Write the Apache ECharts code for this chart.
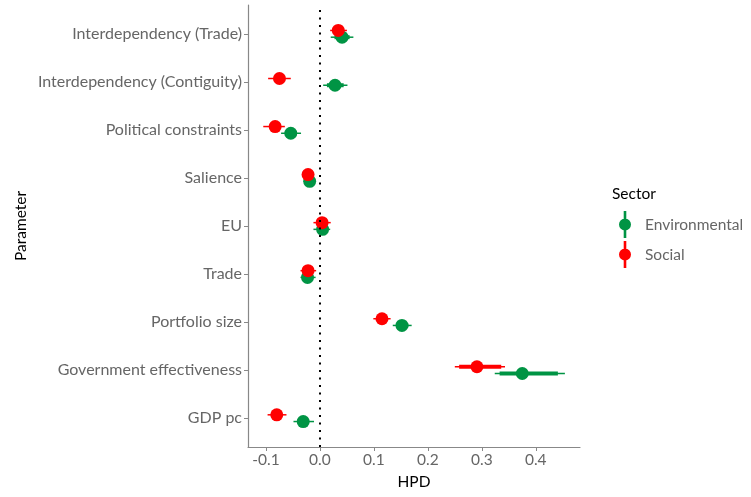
<!DOCTYPE html>
<html>
<head>
<meta charset="utf-8">
<script src="https://cdn.jsdelivr.net/npm/echarts@6/dist/echarts.min.js"></script>
<style>
  html, body { margin: 0; padding: 0; background: #fff; }
  #chart { width: 751px; height: 497px; }
</style>
</head>
<body>
<div id="chart"></div>
<script>
// parameters listed top to bottom
const parameters = [
  'Interdependency (Trade)',
  'Interdependency (Contiguity)',
  'Political constraints',
  'Salience',
  'EU',
  'Trade',
  'Portfolio size',
  'Government effectiveness',
  'GDP pc'
];

const xTicks = [-0.1, 0.0, 0.1, 0.2, 0.3, 0.4];

// Environmental sector: median, thick (inner) and thin (outer) interval
const envMedian = [0.041, 0.028, -0.054, -0.019, 0.005, -0.023, 0.152, 0.375, -0.031];
const envInnerLo = [0.027, 0.013, -0.065, -0.025, -0.004, -0.030, 0.141, 0.333, -0.042];
const envInnerHi = [0.055, 0.044, -0.043, -0.013, 0.013, -0.016, 0.164, 0.441, -0.020];
const envOuterLo = [0.020, 0.006, -0.072, -0.029, -0.012, -0.036, 0.135, 0.324, -0.049];
const envOuterHi = [0.062, 0.051, -0.035, -0.009, 0.019, -0.008, 0.170, 0.454, -0.011];

// Social sector
const socMedian = [0.034, -0.075, -0.083, -0.022, 0.004, -0.022, 0.115, 0.291, -0.080];
const socInnerLo = [0.026, -0.083, -0.092, -0.027, -0.004, -0.029, 0.107, 0.258, -0.088];
const socInnerHi = [0.042, -0.067, -0.074, -0.017, 0.012, -0.015, 0.123, 0.336, -0.071];
const socOuterLo = [0.019, -0.096, -0.105, -0.032, -0.012, -0.036, 0.099, 0.250, -0.097];
const socOuterHi = [0.050, -0.054, -0.065, -0.012, 0.020, -0.007, 0.131, 0.343, -0.062];

const envColor = '#009444';
const socColor = '#ff0000';
const textGray = '#666666';
const fontFamily = 'Lato, "Noto Sans", sans-serif';

const n = parameters.length;

function buildRows(med, inLo, inHi, outLo, outHi, dodge) {
  return parameters.map((p, i) => [n - i + dodge, med[i], outLo[i], outHi[i], inLo[i], inHi[i]]);
}

function renderItem(params, api) {
  const y = api.value(0);
  const med = api.coord([api.value(1), y]);
  const oLo = api.coord([api.value(2), y]);
  const oHi = api.coord([api.value(3), y]);
  const iLo = api.coord([api.value(4), y]);
  const iHi = api.coord([api.value(5), y]);
  const color = api.visual('color');
  return {
    type: 'group',
    children: [
      {
        type: 'line',
        shape: { x1: oLo[0], y1: oLo[1], x2: oHi[0], y2: oHi[1] },
        style: { stroke: color, lineWidth: 1.5 }
      },
      {
        type: 'line',
        shape: { x1: iLo[0], y1: iLo[1], x2: iHi[0], y2: iHi[1] },
        style: { stroke: color, lineWidth: 4 }
      },
      {
        type: 'circle',
        shape: { cx: med[0], cy: med[1], r: 6.5 },
        style: { fill: color }
      }
    ]
  };
}

const legendIcon = 'path://M5.7,0H8.3V27H5.7Z M7,7.5A6,6 0 1 1 7,19.5A6,6 0 1 1 7,7.5Z';

const chart = echarts.init(document.getElementById('chart'));

const option = {
  animation: false,
  textStyle: { fontFamily },
  grid: { left: 248, right: 171, top: 5, bottom: 50 },
  title: {
    text: 'Sector',
    left: 607,
    top: 181,
    textStyle: { fontFamily, fontSize: 15.5, fontWeight: 'normal', color: '#000' }
  },
  legend: {
    orient: 'vertical',
    left: 614,
    top: 206,
    itemWidth: 14,
    itemHeight: 27,
    itemGap: 3,
    data: [
      { name: 'Environmental', icon: legendIcon },
      { name: 'Social', icon: legendIcon }
    ],
    textStyle: { fontFamily, fontSize: 15.5, color: textGray, padding: [0, 0, 0, 8] }
  },
  xAxis: {
    type: 'value',
    min: -0.1333,
    max: 0.482,
    name: 'HPD',
    nameLocation: 'middle',
    nameGap: 27,
    nameTextStyle: { fontFamily, fontSize: 15.5, color: '#000' },
    axisLine: { show: true, onZero: false, lineStyle: { color: '#888', width: 1.2 } },
    axisTick: { show: true, customValues: xTicks, length: 4, lineStyle: { color: '#888' } },
    axisLabel: {
      customValues: xTicks,
      formatter: (v) => v.toFixed(1),
      color: textGray,
      fontSize: 15.5,
      margin: 5
    },
    splitLine: { show: false }
  },
  yAxis: {
    type: 'value',
    min: 0.4,
    max: 9.6,
    name: 'Parameter',
    nameLocation: 'middle',
    nameGap: 219,
    nameRotate: 90,
    nameTextStyle: { fontFamily, fontSize: 15.5, color: '#000' },
    axisLine: { show: true, onZero: false, lineStyle: { color: '#888', width: 1.2 } },
    axisTick: { show: true, customValues: parameters.map((p, i) => i + 1), length: 4, lineStyle: { color: '#888' } },
    axisLabel: {
      customValues: parameters.map((p, i) => i + 1),
      formatter: (v) => parameters[n - Math.round(v)],
      color: textGray,
      fontSize: 16,
      lineHeight: 20,
      padding: [3, 0, 0, 0],
      margin: 6
    },
    splitLine: { show: false }
  },
  series: [
    {
      name: 'Environmental',
      type: 'custom',
      itemStyle: { color: envColor },
      renderItem,
      encode: { x: [1, 2, 3, 4, 5], y: 0 },
      data: buildRows(envMedian, envInnerLo, envInnerHi, envOuterLo, envOuterHi, -0.07),
      markLine: {
        silent: true,
        symbol: 'none',
        label: { show: false },
        lineStyle: { color: '#000', type: [2, 5.5], width: 2 },
        data: [{ xAxis: 0 }]
      }
    },
    {
      name: 'Social',
      type: 'custom',
      itemStyle: { color: socColor },
      renderItem,
      encode: { x: [1, 2, 3, 4, 5], y: 0 },
      data: buildRows(socMedian, socInnerLo, socInnerHi, socOuterLo, socOuterHi, 0.07)
    }
  ]
};

chart.setOption(option);
</script>
</body>
</html>
